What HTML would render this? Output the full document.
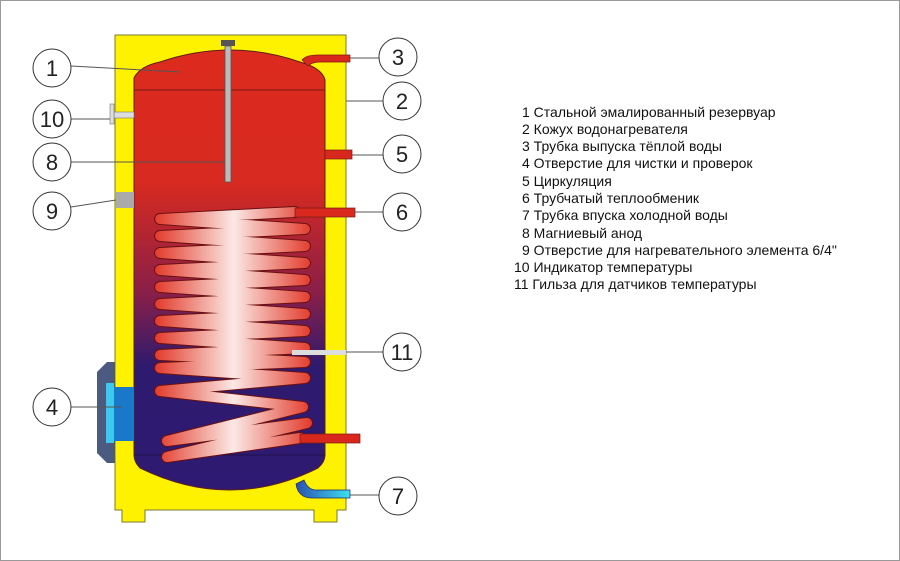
<!DOCTYPE html>
<html><head><meta charset="utf-8"><style>
body{margin:0;background:#fff;}
svg{display:block;font-family:"Liberation Sans",sans-serif;}
</style></head><body>
<svg width="900" height="561" viewBox="0 0 900 561">
<defs>
<linearGradient id="tank" x1="0" y1="0" x2="0" y2="1">
<stop offset="0" stop-color="#dc2a1e"/><stop offset="0.3" stop-color="#d82a20"/>
<stop offset="0.55" stop-color="#8a1f48"/><stop offset="0.72" stop-color="#2e1a6e"/><stop offset="1" stop-color="#2e1a72"/></linearGradient>
<linearGradient id="coil" gradientUnits="userSpaceOnUse" x1="155" y1="0" x2="312" y2="0">
<stop offset="0" stop-color="#e23a2a"/><stop offset="0.5" stop-color="#fbe9e6"/><stop offset="1" stop-color="#e23a2a"/></linearGradient>
<linearGradient id="cold" x1="0" y1="0" x2="1" y2="0"><stop offset="0" stop-color="#2a50b0"/><stop offset="1" stop-color="#3ee0f0"/></linearGradient>
</defs>
<rect x="0.5" y="0.5" width="899" height="560" fill="#fff" stroke="#999"/>
<path d="M115 35H346V510H337V522H314V510H145V522H122V510H115Z" fill="#fff200" stroke="#7a7a30" stroke-width="1"/>
<path d="M134 78Q140 66 160 62Q230 38 300 62Q322 68 325 80V455Q325 462 318 468Q230 512 140 468Q134 462 134 455Z" fill="url(#tank)" stroke="#5a2020" stroke-width="1"/>
<line x1="134" y1="90" x2="325" y2="90" stroke="#7a1a10"/>
<line x1="134" y1="455" x2="325" y2="455" stroke="#20104a"/>
<polyline points="295,212 160,219 305,229 160,236 305,246 160,253 305,263 160,270 305,280 160,287 305,297 160,304 305,314 160,321 305,331 160,338 305,348 160,355 305,362 160,368 305,378 160,391 303,407 167,441 307,423 167,457 300,438" fill="none" stroke="#6a1010" stroke-width="12" stroke-linejoin="round" stroke-linecap="round"/>
<polyline points="295,212 160,219 305,229 160,236 305,246 160,253 305,263 160,270 305,280 160,287 305,297 160,304 305,314 160,321 305,331 160,338 305,348 160,355 305,362 160,368 305,378 160,391 303,407 167,441 307,423 167,457 300,438" fill="none" stroke="url(#coil)" stroke-width="10" stroke-linejoin="round" stroke-linecap="round"/>
<rect x="221" y="40" width="14" height="6" fill="#555"/>
<rect x="225" y="46" width="6" height="136" fill="#bbb" stroke="#555" stroke-width="0.8"/>
<path d="M302 60Q306 55 318 55H350V62H320Q312 62 308 66Z" fill="#d8281e" stroke="#7a1a10" stroke-width="0.7"/>
<rect x="325" y="150" width="27" height="9" fill="#d8281e" stroke="#7a1a10" stroke-width="0.7"/>
<rect x="295" y="208" width="60" height="9" fill="#d8281e" stroke="#7a1a10" stroke-width="0.7"/>
<rect x="300" y="434" width="60" height="9" fill="#d8281e" stroke="#7a1a10" stroke-width="0.7"/>
<rect x="292" y="350" width="54" height="5" fill="#ddd"/>
<path d="M296 484Q298 498 312 498H350V490H316Q308 490 304 480Z" fill="url(#cold)" stroke="#1a2a6a" stroke-width="0.7"/>
<rect x="114" y="112" width="20" height="6" fill="#ddd" stroke="#777" stroke-width="0.6"/>
<rect x="110" y="104" width="4" height="20" fill="#ddd" stroke="#777" stroke-width="0.6"/>
<rect x="116" y="192" width="18" height="16" fill="#aaa"/>
<path d="M107 362H115V463H107L97 453V372Z" fill="#4a5a80"/>
<rect x="106" y="383" width="8" height="60" fill="#3ec8f0"/>
<rect x="114" y="387" width="20" height="54" fill="#1a78c8"/>
<g stroke="#555" stroke-width="1" fill="none">
<line x1="71" y1="66" x2="180" y2="72"/>
<line x1="71" y1="119" x2="110" y2="119"/>
<line x1="71" y1="162" x2="225" y2="162"/>
<line x1="71" y1="207" x2="116" y2="200"/>
<line x1="71" y1="407" x2="122" y2="407"/>
<line x1="350" y1="58" x2="379" y2="58"/>
<line x1="346" y1="101" x2="383" y2="101"/>
<line x1="352" y1="155" x2="383" y2="155"/>
<line x1="355" y1="212" x2="383" y2="212"/>
<line x1="346" y1="352" x2="383" y2="352"/>
<line x1="350" y1="495" x2="379" y2="495"/>
</g>
<g fill="#fff" stroke="#333" stroke-width="1">
<circle cx="52" cy="68" r="19"/><circle cx="52" cy="119" r="19"/><circle cx="52" cy="162" r="19"/>
<circle cx="52" cy="211" r="19"/><circle cx="52" cy="407" r="19"/>
<circle cx="398" cy="57" r="19"/><circle cx="402" cy="101" r="19"/><circle cx="402" cy="154" r="19"/>
<circle cx="402" cy="212" r="19"/><circle cx="402" cy="352" r="19"/><circle cx="398" cy="496" r="19"/>
</g>
<g font-size="22" text-anchor="middle" fill="#222">
<text x="52" y="76">1</text><text x="52" y="127">10</text><text x="52" y="170">8</text>
<text x="52" y="219">9</text><text x="52" y="415">4</text>
<text x="398" y="65">3</text><text x="402" y="109">2</text><text x="402" y="162">5</text>
<text x="402" y="220">6</text><text x="402" y="360">11</text><text x="398" y="504">7</text>
</g>
<g font-size="14" fill="#111">
<text x="522" y="117">1 Стальной эмалированный резервуар</text>
<text x="522" y="134">2 Кожух водонагревателя</text>
<text x="522" y="151">3 Трубка выпуска тёплой воды</text>
<text x="522" y="168">4 Отверстие для чистки и проверок</text>
<text x="522" y="186">5 Циркуляция</text>
<text x="522" y="203">6 Трубчатый теплообменик</text>
<text x="522" y="220">7 Трубка впуска холодной воды</text>
<text x="522" y="238">8 Магниевый анод</text>
<text x="522" y="255">9 Отверстие для нагревательного элемента 6/4"</text>
<text x="514" y="272">10 Индикатор температуры</text>
<text x="514" y="289">11 Гильза для датчиков температуры</text>
</g>
</svg>
</body></html>
